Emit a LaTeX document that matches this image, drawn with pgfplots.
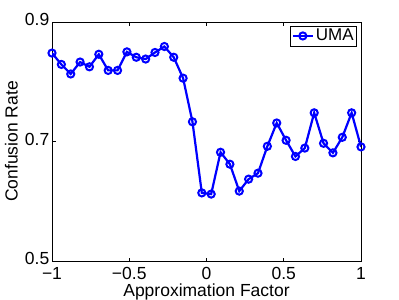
\documentclass[border=0pt]{standalone}
\usepackage{fontspec}
\setmainfont{Liberation Sans}
\usepackage{pgfplots}
\pgfplotsset{compat=1.18}
\begin{document}
\begin{tikzpicture}
\fontsize{17.5bp}{20bp}\selectfont
\begin{axis}[
  name=ax,
  scale only axis,
  width=309bp, height=239bp,
  xmin=-1, xmax=1, ymin=0.5, ymax=0.9,
  xtick={-1,-0.5,0,0.5,1},
  xticklabels={−1,−0.5,0,0.5,1},
  ytick={0.5,0.7,0.9},
  yticklabels={0.5,0.7,0.9},
  tick align=inside,
  major tick length=3.5bp,
  axis line style={black, line width=0.6bp},
  tick style={black, line width=0.6bp},
  tick label style={font=\fontsize{17.5bp}{20bp}\selectfont},
  label style={font=\fontsize{17.5bp}{20bp}\selectfont},
  xticklabel style={inner sep=0pt, yshift=-6bp},
  yticklabel style={inner sep=0pt, xshift=-2.5bp, yshift=2.5bp},
  xlabel={Approximation Factor},
  ylabel={Confusion Rate},
  xlabel style={at={(axis description cs:0.5,-0.094)}, anchor=north, inner sep=0pt},
  ylabel style={at={(axis description cs:-0.11,0.5)}, anchor=south, inner sep=0pt},
  legend style={at={(axis description cs:1,1)}, anchor=north east, xshift=-4bp, yshift=-3.5bp,
    draw=black, line width=0.6bp, inner sep=1bp, font=\fontsize{17bp}{18bp}\selectfont},
  legend cell align=left,
  legend image code/.code={\draw[#1, line width=2.2bp] (0bp,0bp) -- (20bp,0bp); \draw[#1, only marks, line width=2bp] plot coordinates {(10bp,0bp)};},
]
\addplot[color=blue, line width=2.2bp, mark=o, mark size=3.6pt, mark options={line width=2bp}] coordinates {
(-1,0.848) (-0.9394,0.829) (-0.8788,0.813) (-0.8182,0.833) (-0.7576,0.825)
(-0.6970,0.846) (-0.6364,0.819) (-0.5758,0.819) (-0.5152,0.850) (-0.4545,0.841)
(-0.3939,0.838) (-0.3333,0.849) (-0.2727,0.859) (-0.2121,0.841) (-0.1515,0.806)
(-0.0909,0.733) (-0.0303,0.614) (0.0303,0.612) (0.0909,0.682) (0.1515,0.662)
(0.2121,0.617) (0.2727,0.637) (0.3333,0.647) (0.3939,0.692) (0.4545,0.731)
(0.5152,0.702) (0.5758,0.675) (0.6364,0.689) (0.6970,0.748) (0.7576,0.697)
(0.8182,0.681) (0.8788,0.707) (0.9394,0.748) (1,0.691)
};
\addlegendentry{UMA}
\end{axis}
\path (ax.south west) ++(-52bp,-39bp);
\path (ax.north east) ++(38bp,22bp);
\end{tikzpicture}
\end{document}
